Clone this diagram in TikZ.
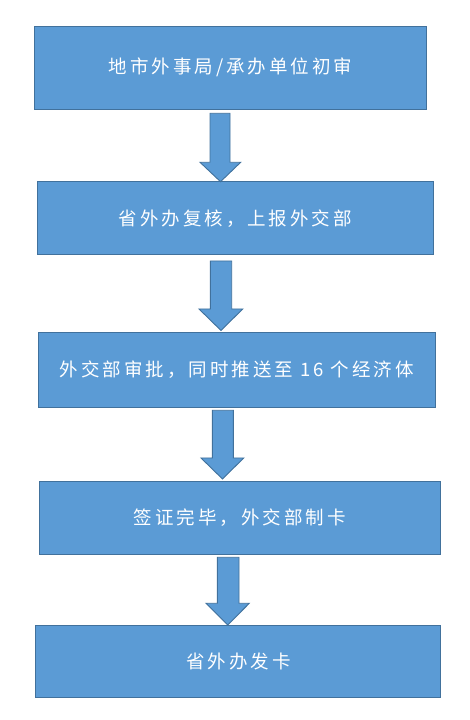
\documentclass[tikz,border=0pt]{standalone}
\usepackage{fontspec}
\newfontfamily\cjk[LetterSpace=16]{Noto Sans CJK SC}
\definecolor{boxfill}{HTML}{5B9BD5}
\definecolor{boxline}{HTML}{41719C}
\begin{document}
\begin{tikzpicture}[x=1pt,y=1pt,
  stepbox/.style={draw=boxline, fill=boxfill, line width=0.9pt, text=white,
    font=\cjk\fontsize{18.5}{22}\selectfont, inner sep=0pt},
  blockarrow/.style={draw=boxline, fill=boxfill, line width=0.9pt, line join=miter}]
\useasboundingbox (0,0) rectangle (469,720);
% boxes: given in px (x from left, y from top)
\node[stepbox, minimum width=392pt, minimum height=83pt] (b1) at (230.5,{720-67.7}) {地市外事局/承办单位初审};
\node[stepbox, minimum width=396pt, minimum height=73pt] (b2) at (235.3,{720-218.3}) {省外办复核，上报外交部};
\node[stepbox, minimum width=397pt, minimum height=75pt] (b3) at (236.8,{720-369.7}) {外交部审批，同时推送至 16 个经济体};
\node[stepbox, minimum width=401pt, minimum height=73pt] (b4) at (239.7,{720-517.5}) {签证完毕，外交部制卡};
\node[stepbox, minimum width=405pt, minimum height=72pt] (b5) at (238.4,{720-661.8}) {省外办发卡};
% block arrows
\draw[blockarrow] (210,{720-113.3}) -- (230,{720-113.3}) -- (230,{720-162.3}) -- (240.7,{720-162.3})
  -- (220.5,{720-181.7}) -- (200,{720-162.3}) -- (210,{720-162.3}) -- cycle;
\draw[blockarrow] (210.3,{720-261}) -- (231.7,{720-261}) -- (231.7,{720-309}) -- (242.7,{720-309})
  -- (221,{720-330.5}) -- (199,{720-309}) -- (210.3,{720-309}) -- cycle;
\draw[blockarrow] (212.3,{720-410.3}) -- (233.3,{720-410.3}) -- (233.3,{720-458}) -- (243.7,{720-458})
  -- (222.5,{720-479}) -- (201,{720-458}) -- (212.3,{720-458}) -- cycle;
\draw[blockarrow] (217.3,{720-557.3}) -- (239,{720-557.3}) -- (239,{720-603.3}) -- (249.3,{720-603.3})
  -- (227.7,{720-625}) -- (206,{720-603.3}) -- (217.3,{720-603.3}) -- cycle;
\end{tikzpicture}
\end{document}
